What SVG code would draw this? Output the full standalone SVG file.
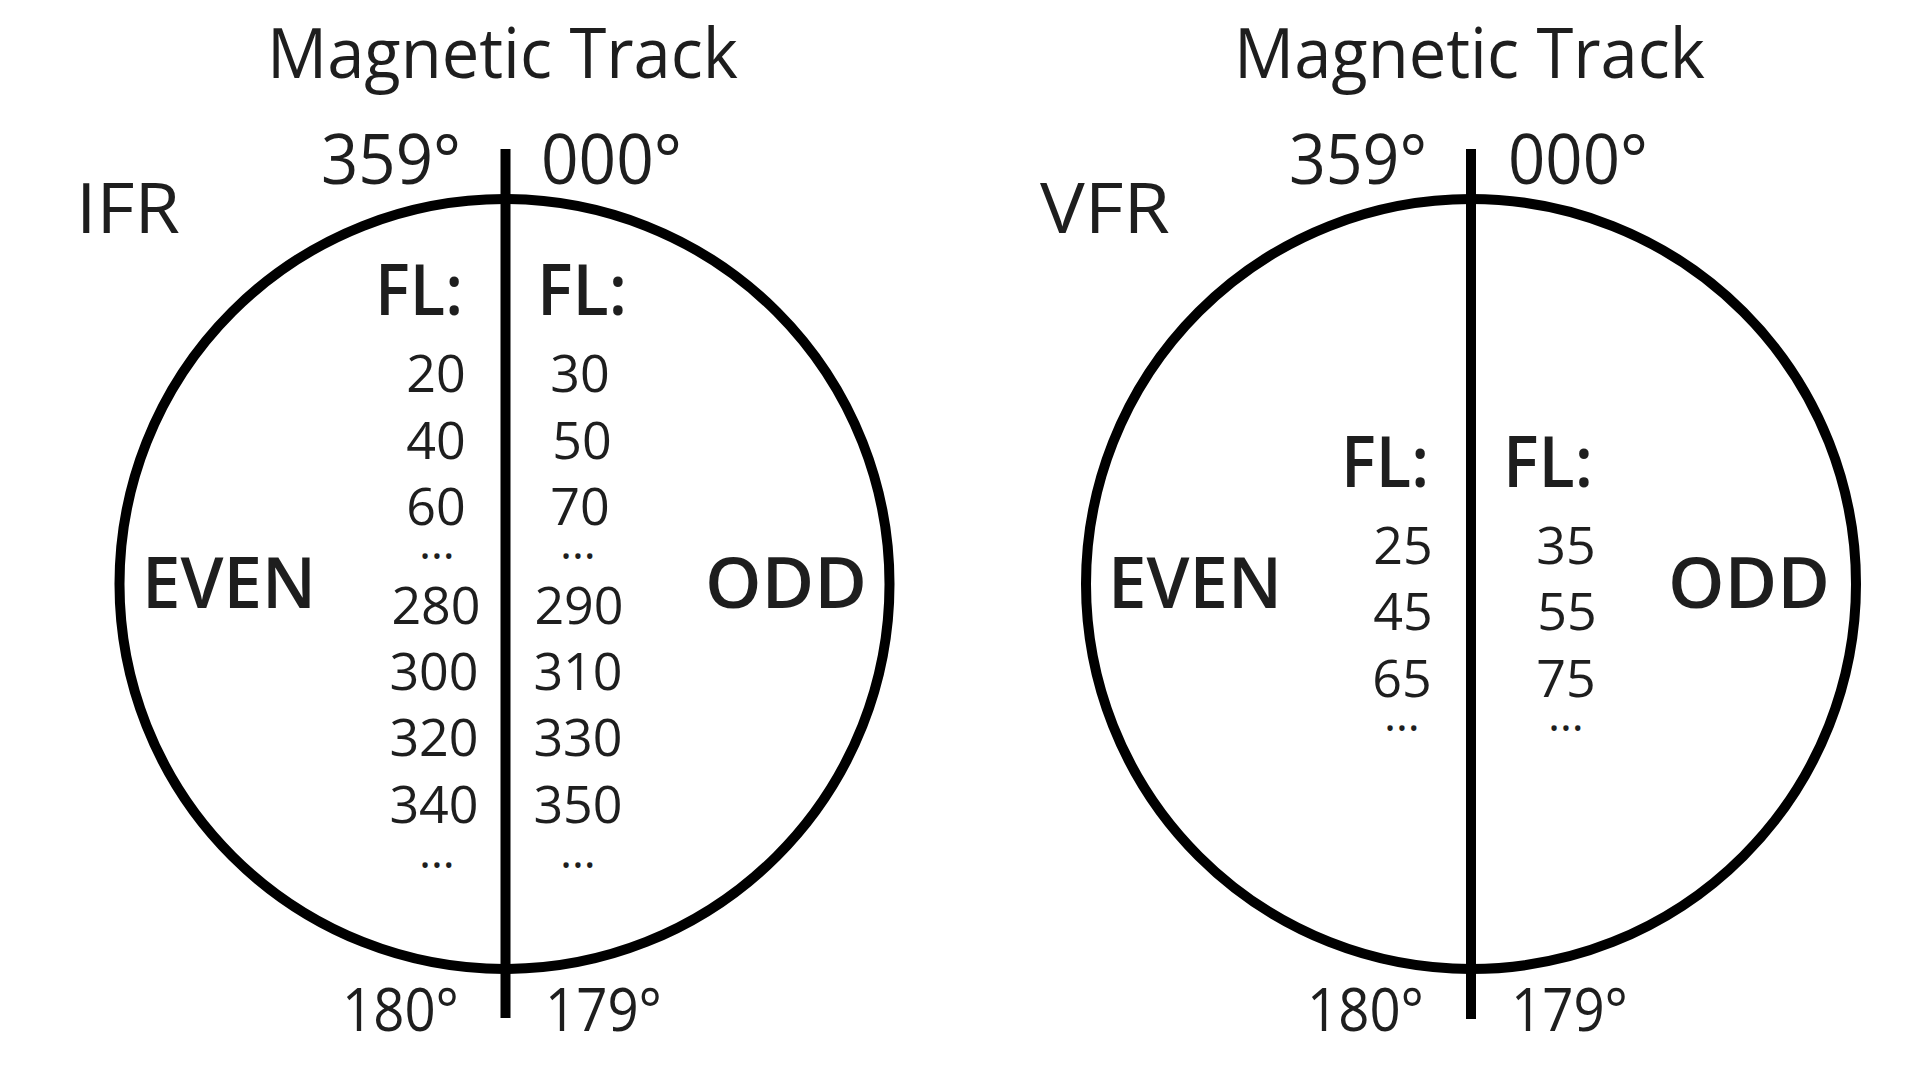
<svg xmlns="http://www.w3.org/2000/svg" width="1920" height="1080" viewBox="0 0 1920 1080">
<style>
.t{font-family:"Open Sans","Noto Sans","Liberation Sans",sans-serif;fill:#1e1e1e;font-weight:400}
.big{font-size:70px}
.deg2{font-size:60px}
.num{font-size:52px}
.b{font-weight:600;font-size:70px}
.dots{font-size:46px}
.ring{fill:none;stroke:#000;stroke-width:10}
.axis{stroke:#000;stroke-width:10}
</style>
<rect width="1920" height="1080" fill="#fff"/>
<g id="ifr">
  <circle class="ring" cx="504.5" cy="584" r="385"/>
  <line class="axis" x1="505.5" y1="149" x2="505.5" y2="1018"/>
  <text class="t big" x="267" y="78" textLength="471" lengthAdjust="spacingAndGlyphs">Magnetic Track</text>
  <text class="t big" x="321" y="184" textLength="140" lengthAdjust="spacingAndGlyphs">359°</text>
  <text class="t big" x="541" y="184" textLength="141" lengthAdjust="spacingAndGlyphs">000°</text>
  <text class="t big" x="76" y="233" textLength="104" lengthAdjust="spacingAndGlyphs">IFR</text>
  <text class="t b" x="375" y="315" textLength="88" lengthAdjust="spacingAndGlyphs">FL:</text>
  <text class="t b" x="537" y="315" textLength="90" lengthAdjust="spacingAndGlyphs">FL:</text>
  <text class="t b" x="142" y="608" textLength="174" lengthAdjust="spacingAndGlyphs">EVEN</text>
  <text class="t b" x="705" y="608" textLength="162" lengthAdjust="spacingAndGlyphs">ODD</text>
  <g text-anchor="middle">
    <text class="t num" x="436" y="392">20</text>
    <text class="t num" x="436" y="459">40</text>
    <text class="t num" x="436" y="525">60</text>
    <text class="t dots" x="437" y="559">…</text>
    <text class="t num" x="436" y="624">280</text>
    <text class="t num" x="434" y="690">300</text>
    <text class="t num" x="434" y="756">320</text>
    <text class="t num" x="434" y="823">340</text>
    <text class="t dots" x="437" y="868">…</text>
    <text class="t num" x="580" y="392">30</text>
    <text class="t num" x="582" y="459">50</text>
    <text class="t num" x="580" y="525">70</text>
    <text class="t dots" x="578" y="559">…</text>
    <text class="t num" x="579" y="624">290</text>
    <text class="t num" x="578" y="690">310</text>
    <text class="t num" x="578" y="756">330</text>
    <text class="t num" x="578" y="823">350</text>
    <text class="t dots" x="578" y="868">…</text>
  </g>
  <text class="t deg2" x="342" y="1031" textLength="117" lengthAdjust="spacingAndGlyphs">180°</text>
  <text class="t deg2" x="545" y="1031" textLength="117" lengthAdjust="spacingAndGlyphs">179°</text>
</g>
<g id="vfr">
  <circle class="ring" cx="1471" cy="584" r="385"/>
  <line class="axis" x1="1471" y1="149" x2="1471" y2="1019"/>
  <text class="t big" x="1234" y="78" textLength="471" lengthAdjust="spacingAndGlyphs">Magnetic Track</text>
  <text class="t big" x="1289" y="184" textLength="138" lengthAdjust="spacingAndGlyphs">359°</text>
  <text class="t big" x="1508" y="184" textLength="140" lengthAdjust="spacingAndGlyphs">000°</text>
  <text class="t big" x="1040" y="233" textLength="130" lengthAdjust="spacingAndGlyphs">VFR</text>
  <text class="t b" x="1341" y="487" textLength="88" lengthAdjust="spacingAndGlyphs">FL:</text>
  <text class="t b" x="1503" y="487" textLength="90" lengthAdjust="spacingAndGlyphs">FL:</text>
  <text class="t b" x="1108" y="608" textLength="174" lengthAdjust="spacingAndGlyphs">EVEN</text>
  <text class="t b" x="1668" y="608" textLength="162" lengthAdjust="spacingAndGlyphs">ODD</text>
  <g text-anchor="middle">
    <text class="t num" x="1403" y="564">25</text>
    <text class="t num" x="1403" y="630">45</text>
    <text class="t num" x="1402" y="697">65</text>
    <text class="t dots" x="1402" y="731">…</text>
    <text class="t num" x="1566" y="564">35</text>
    <text class="t num" x="1567" y="630">55</text>
    <text class="t num" x="1566" y="697">75</text>
    <text class="t dots" x="1566" y="731">…</text>
  </g>
  <text class="t deg2" x="1307" y="1031" textLength="117" lengthAdjust="spacingAndGlyphs">180°</text>
  <text class="t deg2" x="1511" y="1031" textLength="117" lengthAdjust="spacingAndGlyphs">179°</text>
</g>
</svg>
